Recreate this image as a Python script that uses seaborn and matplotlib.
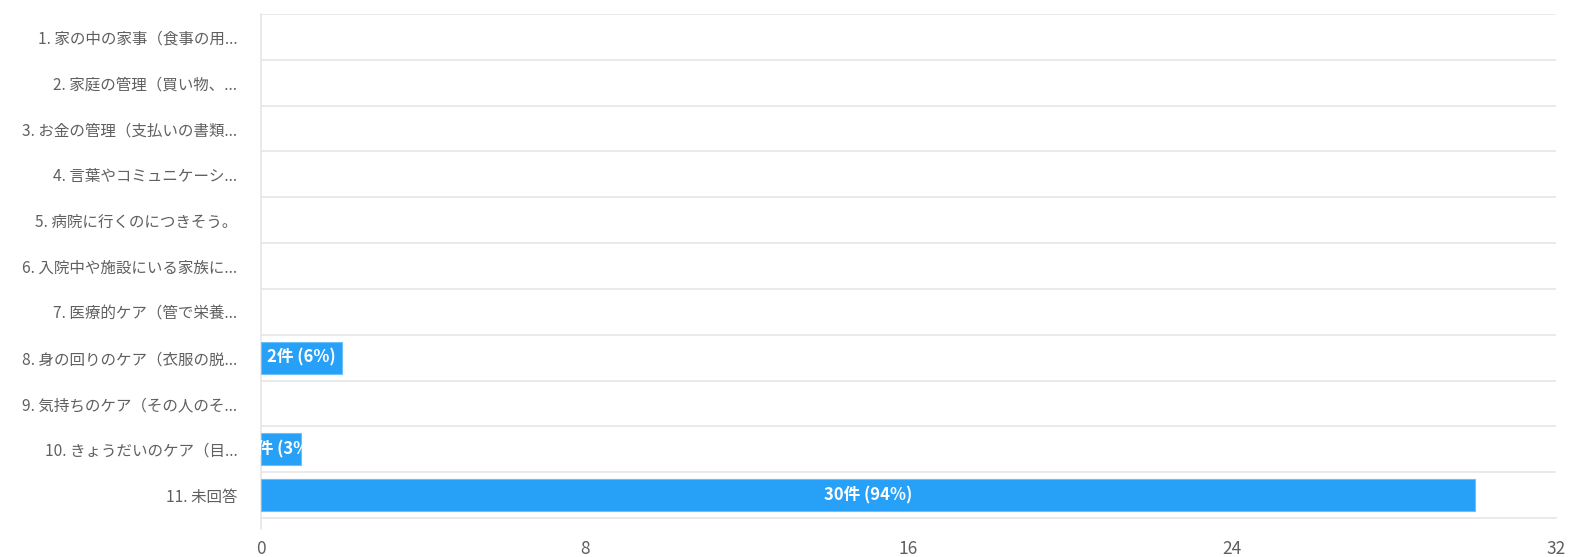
import matplotlib
matplotlib.use("Agg")
import matplotlib.pyplot as plt
import seaborn as sns
import pandas as pd

categories = [
    "1. 家の中の家事（食事の用...",
    "2. 家庭の管理（買い物、...",
    "3. お金の管理（支払いの書類...",
    "4. 言葉やコミュニケーシ...",
    "5. 病院に行くのにつきそう。",
    "6. 入院中や施設にいる家族に...",
    "7. 医療的ケア（管で栄養...",
    "8. 身の回りのケア（衣服の脱...",
    "9. 気持ちのケア（その人のそ...",
    "10. きょうだいのケア（目...",
    "11. 未回答",
]
counts = [0, 0, 0, 0, 0, 0, 0, 2, 0, 1, 30]
percents = [0, 0, 0, 0, 0, 0, 0, 6, 0, 3, 94]
xticks = [0, 8, 16, 24, 32]

sns.set_theme(style="white")
plt.rcParams['font.family'] = ['Noto Sans CJK JP', 'DejaVu Sans']

df = pd.DataFrame({"cat": categories, "count": counts})

fig = plt.figure(figsize=(15.84, 5.57), dpi=100)
ax = fig.add_axes([261/1584, 1-518/557, (1556-261)/1584, (518-14)/557])

sns.barplot(data=df, y="cat", x="count", orient="h", color="#27a0f8",
            saturation=1, width=0.7, edgecolor="#6cc0fb", linewidth=0.8, ax=ax)

for patch in ax.patches:
    if patch.get_width() <= 0:
        patch.set_visible(False)

ax.set_xlim(0, 32)
ax.set_ylim(len(categories) - 0.5, -0.5)
ax.set_xticks(xticks)
ax.set_xticklabels([str(t) for t in xticks], fontsize=12.5, color="#606060")
ax.set_ylabel("")
ax.set_xlabel("")
ax.tick_params(axis="y", length=0, pad=17, labelsize=11.2, labelcolor="#606060")
ax.tick_params(axis="x", length=8, width=1, color="#e0e0e0", pad=8)

for s in ["top", "right"]:
    ax.spines[s].set_visible(False)
ax.spines["left"].set_visible(False)
ax.spines["bottom"].set_color("#e6e6e6")
ax.spines["bottom"].set_linewidth(1.2)

# horizontal band boundaries
for b in range(len(categories)):
    ax.axhline(b - 0.5, color="#e6e6e6", linewidth=1.2, zorder=0)
# left axis line extending below
ax.plot([0, 0], [-0.5, len(categories) - 0.5 + 0.25], color="#e6e6e6",
        linewidth=1.2, clip_on=False, zorder=0)

for patch, c, p in zip(ax.patches, counts, percents):
    if c <= 0:
        continue
    cx = patch.get_x() + patch.get_width() / 2
    cy = patch.get_y() + patch.get_height() / 2
    t = ax.text(cx, cy, f"{c}件 ({p}%)", ha="center", va="center",
                color="white", fontsize=12, fontweight="bold")
    t.set_clip_path(patch)

fig.savefig("out.png", dpi=100)
